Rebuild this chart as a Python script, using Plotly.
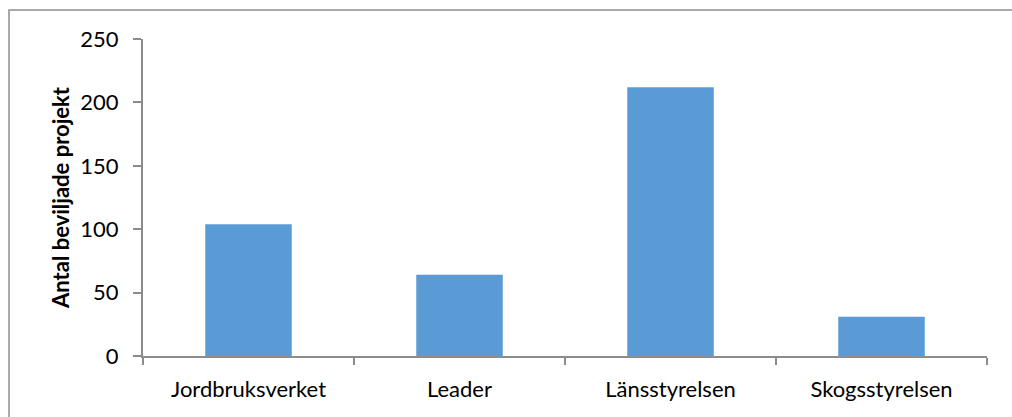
import plotly.graph_objects as go

# Antal beviljade projekt per myndighet
categories = ["Jordbruksverket", "Leader", "Länsstyrelsen", "Skogsstyrelsen"]
projects = [104, 64, 212, 31]
y_ticks = [0, 50, 100, 150, 200, 250]

W, H = 1012, 417
L, R, T, B = 143, 25, 39, 61
pw, ph = W - L - R, H - T - B

axis_color = "#8c8c8c"
font_family = "Lato, 'Open Sans', sans-serif"

fig = go.Figure(
    go.Bar(
        x=categories,
        y=projects,
        marker=dict(color="#5B9BD5", line=dict(width=0)),
        width=0.41,
    )
)

# outer chart frame (top and left edges visible within the window)
def px_x(p):
    return (p - L) / pw

def px_y(p):
    return (H - B - p) / ph

fig.add_shape(
    type="rect", xref="paper", yref="paper",
    x0=px_x(9), x1=px_x(W + 10), y0=px_y(H + 10), y1=px_y(10),
    line=dict(color="#8f8f8f", width=1.5), fillcolor="rgba(0,0,0,0)",
    layer="below",
)

fig.update_layout(
    width=W, height=H,
    margin=dict(l=L, r=R, t=T, b=B),
    paper_bgcolor="white", plot_bgcolor="white",
    showlegend=False,
    font=dict(family=font_family, size=22, color="black"),
    xaxis=dict(
        type="category",
        showline=True, linecolor=axis_color, linewidth=2,
        ticks="outside", tickson="boundaries", ticklen=7, tickwidth=2,
        tickcolor=axis_color, showgrid=False, zeroline=False,
        tickfont=dict(size=22), ticklabelstandoff=13,
    ),
    yaxis=dict(
        range=[0, 250], tickvals=y_ticks,
        showline=True, linecolor=axis_color, linewidth=2,
        ticks="outside", ticklen=8, tickwidth=2, tickcolor=axis_color,
        showgrid=False, zeroline=False,
        tickfont=dict(size=22), ticklabelstandoff=10,
        title=dict(
            text="<b>Antal beviljade projekt</b>",
            font=dict(size=22), standoff=5,
        ),
    ),
)

fig.write_html("out.html")
